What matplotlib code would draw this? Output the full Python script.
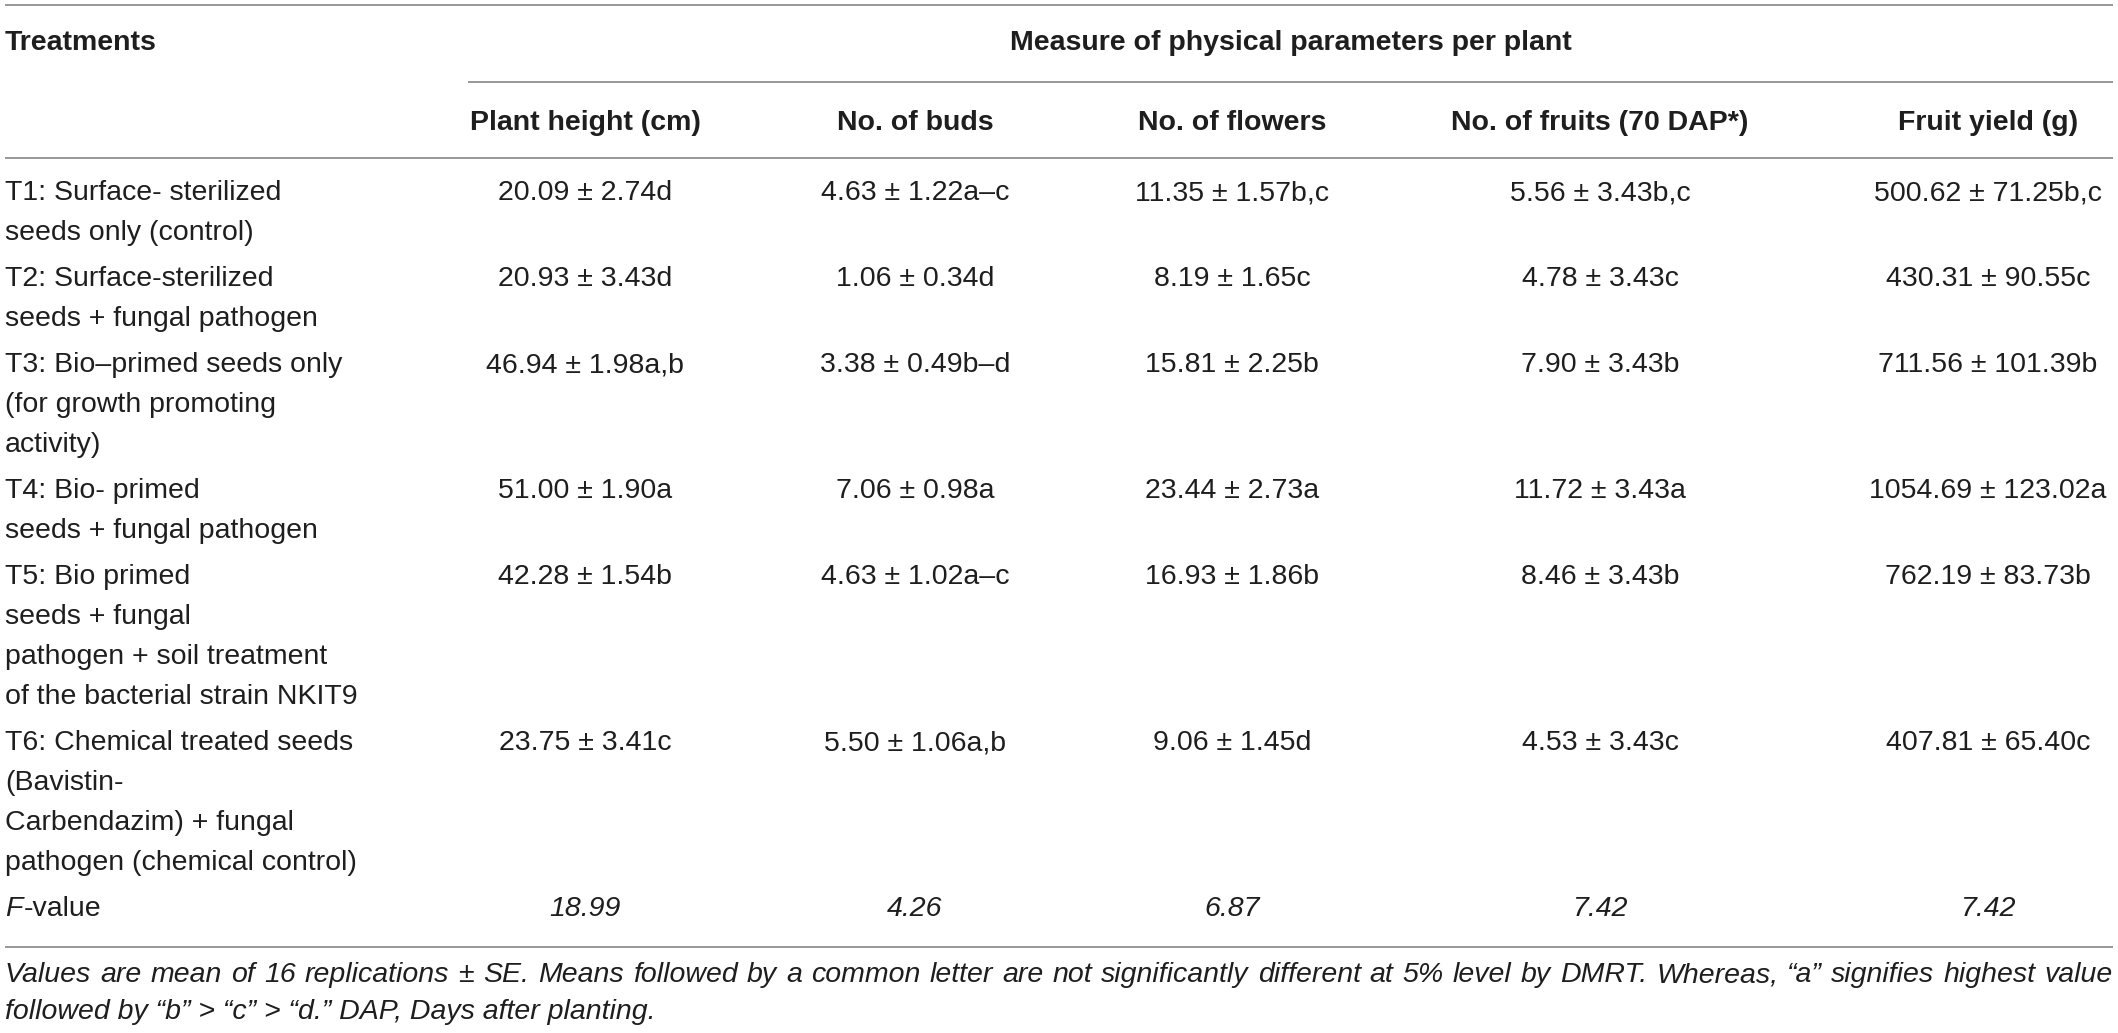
import matplotlib
matplotlib.use("Agg")
import matplotlib.pyplot as plt

# table data
treatments = [
    "T1: Surface- sterilized\nseeds only (control)",
    "T2: Surface-sterilized\nseeds + fungal pathogen",
    "T3: Bio\u2013primed seeds only\n(for growth promoting\nactivity)",
    "T4: Bio- primed\nseeds + fungal pathogen",
    "T5: Bio primed\nseeds + fungal\npathogen + soil treatment\nof the bacterial strain NKIT9",
    "T6: Chemical treated seeds\n(Bavistin-\nCarbendazim) + fungal\npathogen (chemical control)",
]
col_headers = ["Plant height (cm)", "No. of buds", "No. of flowers",
               "No. of fruits (70 DAP*)", "Fruit yield (g)"]

plant_height = [20.09, 20.93, 46.94, 51.00, 42.28, 23.75]
plant_height_se = [2.74, 3.43, 1.98, 1.90, 1.54, 3.41]
plant_height_grp = ["d", "d", "a,b", "a", "b", "c"]

buds = [4.63, 1.06, 3.38, 7.06, 4.63, 5.50]
buds_se = [1.22, 0.34, 0.49, 0.98, 1.02, 1.06]
buds_grp = ["a\u2013c", "d", "b\u2013d", "a", "a\u2013c", "a,b"]

flowers = [11.35, 8.19, 15.81, 23.44, 16.93, 9.06]
flowers_se = [1.57, 1.65, 2.25, 2.73, 1.86, 1.45]
flowers_grp = ["b,c", "c", "b", "a", "b", "d"]

fruits = [5.56, 4.78, 7.90, 11.72, 8.46, 4.53]
fruits_se = [3.43, 3.43, 3.43, 3.43, 3.43, 3.43]
fruits_grp = ["b,c", "c", "b", "a", "b", "c"]

fruit_yield = [500.62, 430.31, 711.56, 1054.69, 762.19, 407.81]
fruit_yield_se = [71.25, 90.55, 101.39, 123.02, 83.73, 65.40]
fruit_yield_grp = ["b,c", "c", "b", "a", "b", "c"]

f_values = [18.99, 4.26, 6.87, 7.42, 7.42]

footnote_1 = ("Values are mean of 16 replications \u00b1 SE. Means followed by a common "
              "letter are not significantly different at 5% level by DMRT. Whereas, "
              "\u201ca\u201d signifies highest value")
footnote_2 = "followed by \u201cb\u201d > \u201cc\u201d > \u201cd.\u201d DAP, Days after planting."

columns = [
    (plant_height, plant_height_se, plant_height_grp),
    (buds, buds_se, buds_grp),
    (flowers, flowers_se, flowers_grp),
    (fruits, fruits_se, fruits_grp),
    (fruit_yield, fruit_yield_se, fruit_yield_grp),
]

# layout (pixels)
W, H = 2118, 1033
left, right = 5, 2113
col_x = [585, 915, 1232, 1600, 1988]
span_left = 468
pitch, gap = 40, 6
FS = 20.5
FONT = "Liberation Sans"
TXT = "#1e1e1e"
RULE = "#7c7c7c"

plt.rcParams["font.family"] = [FONT, "DejaVu Sans"]

fig = plt.figure(figsize=(W / 100, H / 100), dpi=100)
ax = fig.add_axes([0, 0, 1, 1])
ax.set_xlim(0, W)
ax.set_ylim(H, 0)
ax.axis("off")

# rules
for y, x0 in [(5, left), (82, span_left), (158, left), (947, left)]:
    ax.plot([x0, right], [y, y], color=RULE, lw=1.1, solid_capstyle="butt")

# header
ax.text(left, 43, "Treatments", fontsize=FS, fontweight="bold", color=TXT, va="center")
ax.text((span_left + right) / 2, 43, "Measure of physical parameters per plant",
        fontsize=FS, fontweight="bold", color=TXT, va="center", ha="center")
for x, h in zip(col_x, col_headers):
    ax.text(x, 123, h, fontsize=FS, fontweight="bold", color=TXT, va="center", ha="center")

# body rows
y = 193
for i, t in enumerate(treatments):
    lines = t.split("\n")
    for k, ln in enumerate(lines):
        ax.text(left, y + k * pitch, ln, fontsize=FS, color=TXT, va="center")
    for x, (m, s, g) in zip(col_x, columns):
        ax.text(x, y, f"{m[i]:.2f} \u00b1 {s[i]:.2f}{g[i]}", fontsize=FS, color=TXT,
                va="center", ha="center")
    y += len(lines) * pitch + gap

# F-value row
fig.canvas.draw()
renderer = fig.canvas.get_renderer()
tf = ax.text(left, y, "F", fontsize=FS, style="italic", color=TXT, va="center")
wf = tf.get_window_extent(renderer).width
ax.text(left + wf + 1, y, "-value", fontsize=FS, color=TXT, va="center")
for x, f in zip(col_x, f_values):
    ax.text(x, y, f"{f:.2f}", fontsize=FS, style="italic", color=TXT,
            va="center", ha="center")

# footnote, first line justified to the table width
words = footnote_1.split(" ")
fs_note = FS
while True:
    objs = [ax.text(0, 975, w, fontsize=fs_note, style="italic", color=TXT, va="center")
            for w in words]
    widths = [o.get_window_extent(renderer).width for o in objs]
    space = (right - left - sum(widths)) / (len(words) - 1)
    if space >= fs_note * 100 / 72 * 0.2:
        break
    for o in objs:
        o.remove()
    fs_note -= 0.25
xpos = left
for o, w in zip(objs, widths):
    o.set_x(xpos)
    xpos += w + space
ax.text(left, 1012, footnote_2, fontsize=fs_note, style="italic", color=TXT, va="center")

fig.savefig("out.png", dpi=100)
